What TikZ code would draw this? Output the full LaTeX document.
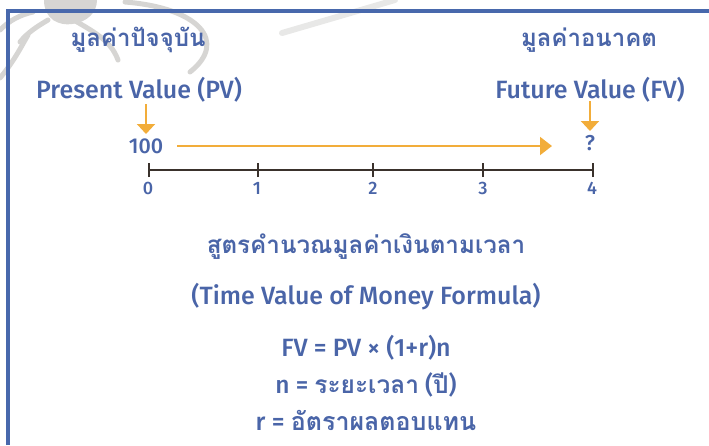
\documentclass[tikz,border=0pt]{standalone}
\usepackage{fontspec}
\usetikzlibrary{arrows.meta}
\setmainfont{Fira Sans}[UprightFont=* Medium, BoldFont=* SemiBold]
\newfontfamily\thai[Script=Thai]{Loma}
\definecolor{tblue}{RGB}{74,101,168}
\definecolor{fblue}{RGB}{72,104,172}
\definecolor{orng}{RGB}{242,173,58}
\definecolor{axisc}{RGB}{58,50,44}
\definecolor{wm}{RGB}{214,213,211}
\definecolor{wmlight}{RGB}{232,232,231}
\newcommand{\thb}{\thai\bfseries}
\tikzset{
  lbl/.style={text=tblue, inner sep=0pt, anchor=center},
  thaihead/.style={lbl, font=\thb\fontsize{24}{28}\selectfont},
  head/.style={lbl, font=\fontsize{25}{29}\selectfont},
  body/.style={lbl, font=\fontsize{25}{29}\selectfont},
  thaibody/.style={lbl, font=\thb\fontsize{24.2}{28}\selectfont},
  numlbl/.style={lbl, font=\fontsize{18}{21}\selectfont},
  vallbl/.style={lbl, font=\fontsize{21.5}{25}\selectfont},
  dnarrow/.style={draw=orng, line width=2pt, -{Triangle[width=18pt,length=10pt]}},
  harrow/.style={draw=orng, line width=2pt, -{Triangle[width=18pt,length=12pt]}},
  axisline/.style={draw=axisc, line width=2pt},
  tickline/.style={draw=axisc, line width=2pt},
  frameline/.style={draw=fblue, line width=4pt, line join=miter},
  wmstroke/.style={draw=wm, line width=5pt, line cap=round}
}
\begin{document}
\begin{tikzpicture}[x=1pt,y=-1pt]
\useasboundingbox (0,0) rectangle (709,445);
% watermark
\fill[wm] (44,0) .. controls (44,20) and (60,26) .. (72,24) .. controls (88,22) and (97,12) .. (97,0) -- cycle;
\draw[wmstroke] (125,2) .. controls (200,8) and (228,42) .. (190,72);
\draw[wmstroke] (0,30) .. controls (10,20) and (20,15) .. (33,12);
\draw[wmstroke] (20,42) .. controls (28,32) and (38,26) .. (48,20);
\draw[wmstroke] (0,78) .. controls (15,60) and (22,45) .. (28,35);
\draw[wmstroke] (60,12) .. controls (90,30) and (110,38) .. (118,60);
\draw[draw=wmlight, line width=6pt, line cap=round] (282,33) -- (395,0);
% frame
\draw[frameline] (8,445) -- (8,11) -- (709,11);
% headings
\node[thaihead] (pvth) at (138,40) {มูลค่าปัจจุบัน};
\node[head] (pv) at (139,90) {Present Value (PV)};
\node[thaihead] (fvth) at (589,40) {มูลค่าอนาคต};
\node[head] (fv) at (590,90) {Future Value (FV)};
% values
\node[vallbl] (v100) at (146,146) {100};
\node[vallbl] (vq) at (590,143) {?};
\coordinate (pvs) at (146,104);
\coordinate (pve) at (146,134);
\coordinate (fvs) at (590,101);
\coordinate (fve) at (590,131);
\draw[dnarrow] (pvs) -- (pve);
\draw[dnarrow] (fvs) -- (fve);
\coordinate (hstart) at (177,146);
\coordinate (hend) at (552,146);
\draw[harrow] (hstart) -- (hend);
% axis
\coordinate (t0) at (149,170);
\coordinate (t1) at (258,170);
\coordinate (t2) at (373,170);
\coordinate (t3) at (483,170);
\coordinate (t4) at (593,170);
\draw[axisline] (t0) -- (t4);
\foreach \t in {t0,t1,t2,t3,t4}{\draw[tickline] ([yshift=-7pt]\t) -- ([yshift=7pt]\t);}
\node[numlbl] (l0) at (148,188) {0};
\node[numlbl] (l1) at (257,188) {1};
\node[numlbl] (l2) at (373,188) {2};
\node[numlbl] (l3) at (483,188) {3};
\node[numlbl] (l4) at (592,188) {4};
% formula block
\node[thaibody] (title) at (366,247) {สูตรคำนวณมูลค่าเงินตามเวลา};
\node[body] (sub) at (366,297) {(Time Value of Money Formula)};
\node[body] (f1) at (366,348) {FV = PV × (1+r)n};
\node[body, font=\fontsize{24.5}{28}\selectfont] (f2) at (366,385) {n = {\thb ระยะเวลา} ({\thb ปี})};
\node[body] (f3) at (366,420) {r = {\thb อัตราผลตอบแทน}};
\end{tikzpicture}
\end{document}
